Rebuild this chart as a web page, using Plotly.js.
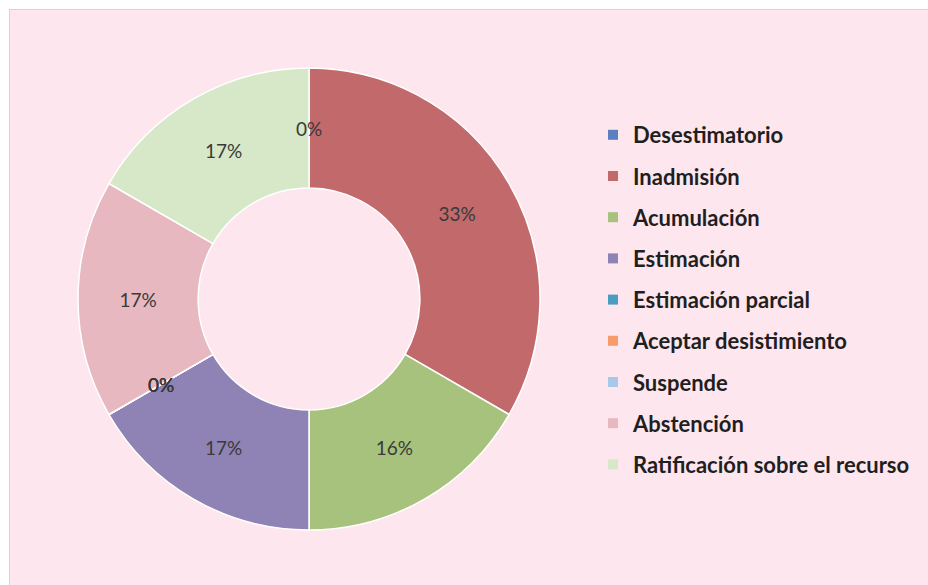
<!DOCTYPE html>
<html>
<head>
<meta charset="utf-8">
<script src="https://cdn.plot.ly/plotly-3.0.1.min.js"></script>
<style>
  html, body { margin: 0; padding: 0; background: #ffffff; width: 928px; height: 585px; overflow: hidden; }
  #frame { position: absolute; left: 9px; top: 9px; width: 919px; height: 576px;
           background: #fde6ee; border-top: 1px solid #f3c6d2; border-left: 1px solid #f3c6d2; box-sizing: border-box; }
  #chart { width: 100%; height: 100%; }
</style>
</head>
<body>
<div id="frame"><div id="chart"></div></div>
<script>
// ---- data ----
const categories = ["Desestimatorio", "Inadmisión", "Acumulación", "Estimación",
  "Estimación parcial", "Aceptar desistimiento", "Suspende", "Abstención",
  "Ratificación sobre el recurso"];
const counts = [0, 2, 1, 1, 0, 0, 0, 1, 1];
const percentLabels = ["0%", "33%", "16%", "17%", "0%", "0%", "0%", "17%", "17%"];
const sliceColors = ["#5b7fbf", "#c1696b", "#a6c27c", "#8f83b5", "#4a9cc0",
  "#f59c6a", "#a8c8ea", "#e7b8c0", "#d6e8c7"];

const W = 919, H = 576;
const domX = [68 / W, 530 / W];
const domY = [(H - 520) / H, (H - 58) / H];
const holeFrac = 0.48;
const labelFont = { family: "Lato, sans-serif", size: 19, color: "#3a3a3a" };

const pie = {
  type: "pie",
  labels: categories,
  values: counts,
  text: percentLabels,
  textinfo: "text",
  textposition: "inside",
  insidetextorientation: "horizontal",
  textfont: labelFont,
  hole: holeFrac,
  sort: false,
  direction: "clockwise",
  rotation: 0,
  marker: { colors: sliceColors, line: { color: "#ffffff", width: 1.5 } },
  domain: { x: domX, y: domY },
  showlegend: false,
  hoverinfo: "label+text"
};

// legend entries (one group each so spacing can be set)
const legendTraces = categories.map((c, i) => ({
  type: "scatter", mode: "markers", x: [null], y: [null],
  name: c, legendgroup: "g" + i,
  marker: { symbol: "square", size: 10, color: sliceColors[i] },
  hoverinfo: "skip"
}));

// labels for zero-valued slices (Plotly hides them), placed from data angles
const total = counts.reduce((a, b) => a + b, 0);
const cx = (domX[0] + domX[1]) / 2, cy = (domY[0] + domY[1]) / 2;
const Rpx = Math.min((domX[1] - domX[0]) * W, (domY[1] - domY[0]) * H) / 2;
const rMid = Rpx * (1 + holeFrac) / 2;
const annotations = [];
let cum = 0;
counts.forEach((v, i) => {
  const a = (cum + v / 2) / total * 2 * Math.PI;
  if (v === 0) {
    annotations.push({
      xref: "paper", yref: "paper", xanchor: "center", yanchor: "middle",
      x: cx + Math.sin(a) * rMid / W,
      y: cy + Math.cos(a) * rMid / H,
      text: percentLabels[i], showarrow: false,
      font: labelFont
    });
  }
  cum += v;
});

const layout = {
  width: W, height: H,
  margin: { l: 0, r: 0, t: 0, b: 0 },
  paper_bgcolor: "rgba(0,0,0,0)",
  plot_bgcolor: "rgba(0,0,0,0)",
  xaxis: { visible: false }, yaxis: { visible: false },
  showlegend: true,
  legend: {
    x: 583 / W, y: (H - 104) / H, xanchor: "left", yanchor: "top",
    bgcolor: "rgba(0,0,0,0)",
    font: { family: "Lato, sans-serif", size: 22, color: "#1f1f1f", weight: "bold" },
    tracegroupgap: 9.6,
    itemclick: false, itemdoubleclick: false
  },
  annotations: annotations
};

Plotly.newPlot("chart", [pie].concat(legendTraces), layout, { displayModeBar: false, staticPlot: true });
</script>
</body>
</html>
